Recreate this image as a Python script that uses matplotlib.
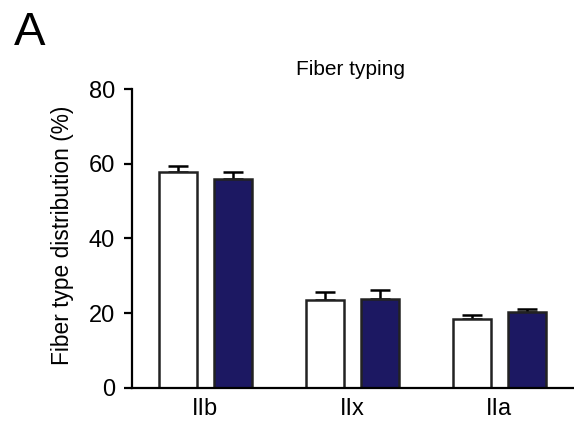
import numpy as np
import matplotlib.pyplot as plt

plt.rcParams['font.family'] = ['Liberation Sans', 'DejaVu Sans']

# Fiber types and group means / SEM (%)
fiber_types = ["IIb", "IIx", "IIa"]
ctrl_mean = [57.8, 23.5, 18.5]
ctrl_sem = [1.5, 2.1, 1.0]
treat_mean = [55.9, 23.7, 20.2]
treat_sem = [2.0, 2.5, 1.0]


def bar_chart():
    fig = plt.figure(figsize=(5.74, 4.30), dpi=100)
    ax = fig.add_axes([0.2294, 0.0977, 0.7686, 0.6953])

    x = np.arange(len(fiber_types))
    w = 0.258
    off = 0.187

    ax.bar(x - off, ctrl_mean, w, color="white", edgecolor="#222222", linewidth=1.8, zorder=2)
    ax.bar(x + off, treat_mean, w, color="#1c1862", edgecolor="#222222", linewidth=1.8, zorder=2)

    # one-sided error bars (upper only)
    ax.errorbar(x - off, ctrl_mean, yerr=[np.zeros(3), ctrl_sem], fmt="none",
                ecolor="black", elinewidth=1.8, capsize=7, capthick=1.8, zorder=1)
    ax.errorbar(x + off, treat_mean, yerr=[np.zeros(3), treat_sem], fmt="none",
                ecolor="black", elinewidth=1.8, capsize=7, capthick=1.8, zorder=1)

    ax.set_xlim(-0.5, 2.5)
    ax.set_ylim(0, 80)
    ax.set_yticks([0, 20, 40, 60, 80])
    ax.set_xticks(x)
    ax.set_xticklabels(fiber_types)

    for s in ["top", "right"]:
        ax.spines[s].set_visible(False)
    for s in ["left", "bottom"]:
        ax.spines[s].set_linewidth(1.6)
    ax.tick_params(axis="y", length=6, width=1.6, labelsize=17, pad=6)
    ax.tick_params(axis="x", length=0, labelsize=17, pad=7)

    ax.set_ylabel("Fiber type distribution (%)", fontsize=16.4)
    ax.yaxis.set_label_coords(-0.131, 0.51)
    fig.text(350 / 574, 1 - 75 / 430, "Fiber typing", fontsize=15, ha="center", va="baseline")
    fig.text(14 / 574, 1 - 45 / 430, "A", fontsize=34, ha="left", va="baseline")

    fig.savefig("out.png", dpi=100)


bar_chart()
